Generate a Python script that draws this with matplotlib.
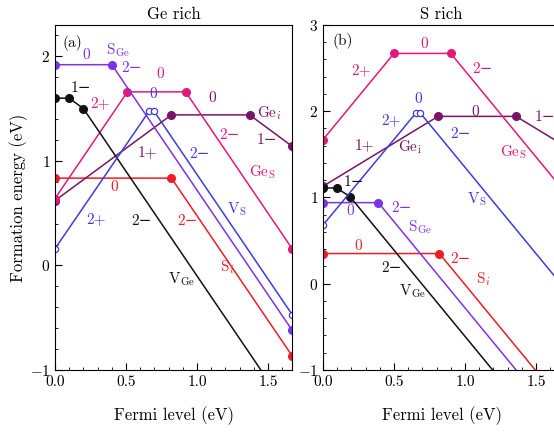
import matplotlib
matplotlib.use("Agg")
import matplotlib.pyplot as plt
from matplotlib.ticker import MultipleLocator

plt.rcParams['font.family'] = ['cmr10', 'DejaVu Serif']
plt.rcParams['mathtext.fontset'] = 'cm'
plt.rcParams['axes.formatter.use_mathtext'] = True

PINK = '#e3197a'
BLUE = '#3d3ddc'
VIOLET = '#7f33e6'
PURPLE = '#7a1466'
RED = '#ee1c25'
BLACK = '#111111'

# ---- (a) Ge rich : transition points (Fermi level, formation energy)
a_sge_x = [0, 0.40, 1.67]
a_sge_y = [1.92, 1.92, -0.62]
a_vge_x = [0, 0.10, 0.20, 1.67]
a_vge_y = [1.60, 1.60, 1.50, -1.44]
a_ges_x = [0, 0.51, 0.92, 1.67]
a_ges_y = [0.64, 1.66, 1.66, 0.16]
a_vs_x = [0, 0.665, 0.695, 1.67]
a_vs_y = [0.16, 1.48, 1.48, -0.47]
a_gei_x = [0, 0.82, 1.37, 1.67]
a_gei_y = [0.62, 1.44, 1.44, 1.14]
a_si_x = [0, 0.82, 1.67]
a_si_y = [0.835, 0.835, -0.865]

# ---- (b) S rich
b_sge_x = [0, 0.39, 1.67]
b_sge_y = [0.94, 0.94, -1.62]
b_vge_x = [0, 0.096, 0.19, 1.67]
b_vge_y = [1.11, 1.11, 1.01, -1.95]
b_ges_x = [0, 0.50, 0.90, 1.67]
b_ges_y = [1.67, 2.67, 2.67, 1.13]
b_vs_x = [0, 0.655, 0.685, 1.67]
b_vs_y = [0.68, 1.98, 1.98, 0.01]
b_gei_x = [0, 0.81, 1.36, 1.67]
b_gei_y = [1.13, 1.94, 1.94, 1.63]
b_si_x = [0, 0.82, 1.67]
b_si_y = [0.35, 0.35, -1.35]

a_labels = [
    ('(a)', 0.12, 2.13, BLACK), ('0', 0.22, 2.01, VIOLET),
    (r'S$_{\rm Ge}$', 0.44, 2.06, VIOLET), ('2−', 0.54, 1.89, VIOLET),
    ('0', 0.74, 1.83, PINK), ('0', 0.69, 1.64, BLUE), ('0', 1.11, 1.60, PURPLE),
    ('1−', 0.18, 1.70, BLACK), ('2+', 0.32, 1.55, PINK),
    (r'Ge$_i$', 1.51, 1.46, PURPLE), ('2−', 1.23, 1.25, PINK),
    ('1−', 1.49, 1.20, PURPLE), ('1+', 0.65, 1.08, PURPLE),
    ('2−', 1.02, 1.06, BLUE), (r'Ge$_{\rm S}$', 1.46, 0.89, PINK),
    ('0', 0.42, 0.75, RED), (r'V$_{\rm S}$', 1.28, 0.54, BLUE),
    ('2+', 0.29, 0.44, BLUE), ('2−', 0.61, 0.42, BLACK),
    ('2−', 0.93, 0.42, RED), (r'S$_i$', 1.21, -0.02, RED),
    (r'V$_{\rm Ge}$', 0.89, -0.13, BLACK),
]
b_labels = [
    ('(b)', 0.14, 2.81, BLACK), ('0', 0.71, 2.78, PINK),
    ('2+', 0.27, 2.47, PINK), ('2−', 1.12, 2.49, PINK),
    ('0', 0.67, 2.14, BLUE), ('2+', 0.48, 1.89, BLUE),
    ('0', 1.07, 1.99, PURPLE), ('1−', 1.56, 1.93, PURPLE),
    ('2−', 0.97, 1.73, BLUE), ('1+', 0.29, 1.60, PURPLE),
    (r'Ge$_{\rm i}$', 0.61, 1.58, PURPLE), (r'Ge$_{\rm S}$', 1.34, 1.52, PINK),
    ('1−', 0.22, 1.18, BLACK), (r'V$_{\rm S}$', 1.08, 0.98, BLUE),
    ('2−', 0.55, 0.88, VIOLET), ('0', 0.19, 0.84, VIOLET),
    (r'S$_{\rm Ge}$', 0.68, 0.65, VIOLET), ('0', 0.25, 0.43, RED),
    ('2−', 0.97, 0.28, RED), ('2−', 0.48, 0.18, BLACK),
    (r'S$_i$', 1.13, 0.05, RED), (r'V$_{\rm Ge}$', 0.63, -0.09, BLACK),
]


def draw_panel(ax, data, labels, title, ylim, yticks):
    sge, vge, ges, vs, gei, si = data
    ax.plot(*si, color=RED, lw=1.1, marker='o', ms=5.5)
    ax.plot(*gei, color=PURPLE, lw=1.1, marker='o', ms=5.5)
    ax.plot(*ges, color=PINK, lw=1.1, marker='o', ms=5.5)
    ax.plot(*sge, color=VIOLET, lw=1.1, marker='o', ms=5.5)
    ax.plot(vge[0], vge[1], color=BLACK, lw=1.1)
    ax.plot(vge[0][:3], vge[1][:3], color=BLACK, lw=0, marker='o', ms=5.5)
    ax.plot(*vs, color=BLUE, lw=1.1, marker='o', ms=4.5, mfc='white', mew=0.9)
    for txt, x, y, c in labels:
        ax.text(x, y, txt, color=c, fontsize=11, ha='center', va='center')
    ax.set_xlim(0, 1.67)
    ax.set_ylim(*ylim)
    ax.set_yticks(yticks)
    ax.set_xticks([0, 0.5, 1.0, 1.5])
    ax.xaxis.set_minor_locator(MultipleLocator(0.1))
    ax.yaxis.set_minor_locator(MultipleLocator(0.2))
    ax.tick_params(which='both', direction='in', top=False, right=False, labelsize=11)
    ax.tick_params(which='major', length=5)
    ax.tick_params(which='minor', length=2.5)
    ax.set_xticklabels(['0.0', '0.5', '1.0', '1.5'])
    ax.set_title(title, fontsize=12, pad=4)
    ax.set_xlabel('Fermi level (eV)', fontsize=12, labelpad=13)


fig = plt.figure(figsize=(5.54, 4.34), dpi=100)
ax1 = fig.add_axes([0.0993, 0.1475, 0.428, 0.795])
ax2 = fig.add_axes([0.583, 0.1475, 0.428, 0.795])

draw_panel(ax1, [(a_sge_x, a_sge_y), (a_vge_x, a_vge_y), (a_ges_x, a_ges_y),
                 (a_vs_x, a_vs_y), (a_gei_x, a_gei_y), (a_si_x, a_si_y)],
           a_labels, 'Ge rich', (-1, 2.3), [-1, 0, 1, 2])
draw_panel(ax2, [(b_sge_x, b_sge_y), (b_vge_x, b_vge_y), (b_ges_x, b_ges_y),
                 (b_vs_x, b_vs_y), (b_gei_x, b_gei_y), (b_si_x, b_si_y)],
           b_labels, 'S rich', (-1, 3), [-1, 0, 1, 2, 3])
ax1.set_ylabel('Formation energy (eV)', fontsize=12, labelpad=1)

fig.savefig('out.png', dpi=100)
